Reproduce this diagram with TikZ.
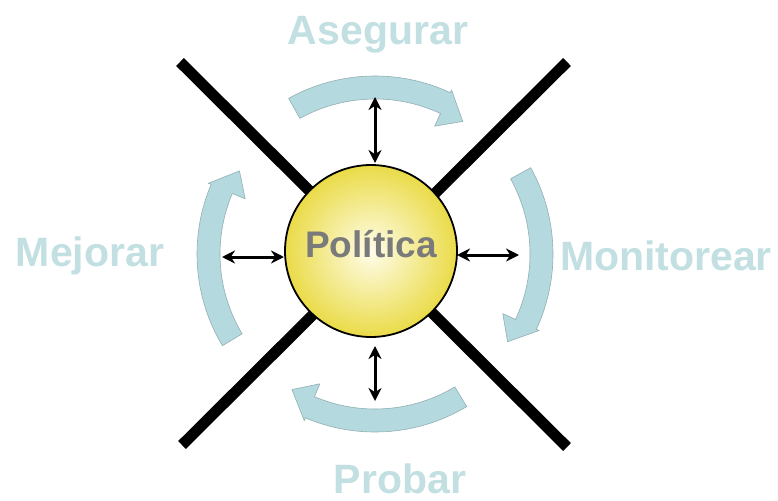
\documentclass[tikz,border=0pt]{standalone}
\usepackage{fontspec}
\setmainfont{Liberation Sans}
\usetikzlibrary{calc,arrows.meta}
\definecolor{arcfill}{HTML}{B4D9DE}
\definecolor{arcedge}{HTML}{92B0B4}
\definecolor{labcol}{HTML}{C2DFE2}
\definecolor{poltxt}{HTML}{7A7A7A}
\definecolor{yelout}{HTML}{EADB48}
\definecolor{yelin}{HTML}{FFFDEA}
\newcommand\flowarc[1]{%
  \pgfmathsetmacro\sA{#1+31}%
  \pgfmathsetmacro\bA{#1-23}%
  \pgfmathsetmacro\tA{#1-31.5}%
  \draw[arcsty] ($(C)+(\sA:155pt)$) -- ($(C)+(\sA:178pt)$)
    arc[start angle=\sA, end angle=\bA, radius=178pt]
    -- ($(C)+(\bA:181pt)$) -- ($(C)+(\tA:159pt)$) -- ($(C)+(\bA:141pt)$)
    -- ($(C)+(\bA:155pt)$)
    arc[start angle=\bA, end angle=\sA, radius=155pt] -- cycle;}
\begin{document}
\begin{tikzpicture}[x=1pt,y=-1pt,
  arcsty/.style={fill=arcfill, draw=arcedge, line width=0.6pt, line join=round},
  xline/.style={line width=11pt, black},
  dblarrow/.style={line width=3pt, {Stealth[length=13pt,width=13pt]}-{Stealth[length=13pt,width=13pt]}},
  labeltext/.style={font=\fontsize{41}{41}\selectfont\bfseries, text=labcol, anchor=base, inner sep=0pt},
  polcircle/.style={circle, minimum size=172pt, inner sep=0pt, draw=black, line width=1.8pt, inner color=yelin, outer color=yelout}
]
\useasboundingbox (0,0) rectangle (778,500);
\fill[white] (0,0) rectangle (778,500);
\coordinate (C) at (375,254);
% X lines
\coordinate (xTL) at (180,62);
\coordinate (xBR) at (567,447);
\coordinate (xTR) at (567,62);
\coordinate (xBL) at (182,445);
\draw[xline] (xTL) -- (xBR);
\draw[xline] (xTR) -- (xBL);
% curved arrows
\flowarc{88}
\flowarc{-2}
\flowarc{-90}
\flowarc{180}
% central circle
\node[polcircle] (pol) at (371,251) {};
\node[font=\fontsize{37}{37}\selectfont\bfseries, text=poltxt, anchor=base, inner sep=0pt] (poltext) at (371,257) {Política};
% double arrows
\coordinate (aT1) at (375,163);
\coordinate (aT2) at (375,97);
\coordinate (aB1) at (375,346);
\coordinate (aB2) at (375,401);
\coordinate (aL1) at (284,257);
\coordinate (aL2) at (222,257);
\coordinate (aR1) at (457,255);
\coordinate (aR2) at (519,255);
\draw[dblarrow] (aT1) -- (aT2);
\draw[dblarrow] (aB1) -- (aB2);
\draw[dblarrow] (aL1) -- (aL2);
\draw[dblarrow] (aR1) -- (aR2);
% labels
\node[labeltext] (asegurar) at (378,45) {Asegurar};
\node[labeltext] (monitorear) at (666,270) {Monitorear};
\node[labeltext] (mejorar) at (90,266) {Mejorar};
\node[labeltext] (probar) at (400,493) {Probar};
\end{tikzpicture}
\end{document}
